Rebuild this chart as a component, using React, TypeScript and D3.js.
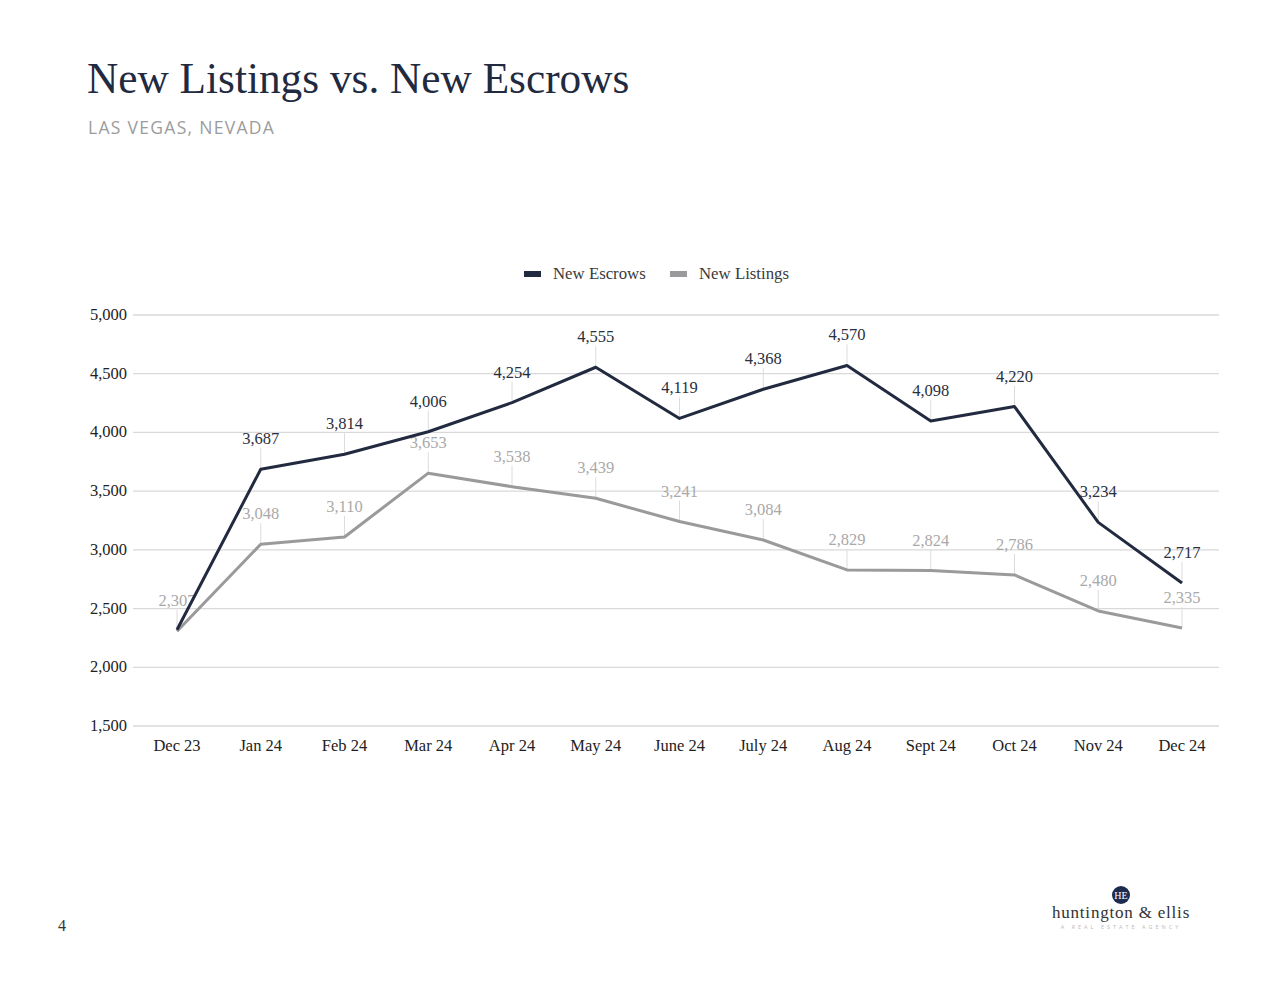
import React from "react";
import * as d3 from "d3";

const categories = ["Dec 23", "Jan 24", "Feb 24", "Mar 24", "Apr 24", "May 24", "June 24", "July 24", "Aug 24", "Sept 24", "Oct 24", "Nov 24", "Dec 24"];
const escrows = [2320, 3687, 3814, 4006, 4254, 4555, 4119, 4368, 4570, 4098, 4220, 3234, 2717];
const escrowLabelShown = [false, true, true, true, true, true, true, true, true, true, true, true, true];
const listings = [2307, 3048, 3110, 3653, 3538, 3439, 3241, 3084, 2829, 2824, 2786, 2480, 2335];
const yTicks = [1500, 2000, 2500, 3000, 3500, 4000, 4500, 5000];

const W = 1280;
const H = 989;
const SERIF = "'Liberation Serif', 'DejaVu Serif', serif";
const SANS = "'Open Sans', Lato, sans-serif";
const NAVY = "#222a3f";
const GREY = "#9a9a9d";

export default function App() {
  const x = d3.scalePoint<string>().domain(categories).range([177, 1182]);
  const cx = (c: string) => x(c) as number;
  const y = d3.scaleLinear().domain([1500, 5000]).range([726, 315]);
  const fmt = d3.format(",");

  const line = d3.line<number>().x((_, i) => cx(categories[i])).y((d) => y(d));

  const renderLabels = (vals: number[], color: string, shown?: boolean[]) =>
    vals.map((v, i) => {
      if (shown && !shown[i]) return null;
      const px = cx(categories[i]);
      const py = y(v);
      const ly = py - 25;
      return (
        <g key={i}>
          <line x1={px} x2={px} y1={ly + 4} y2={py} stroke="#dcdcdc" strokeWidth={1} />
          <text x={px} y={ly} textAnchor="middle" fontFamily={SERIF} fontSize={16.5} fill={color}>
            {fmt(v)}
          </text>
        </g>
      );
    });

  return (
    <svg width={W} height={H} style={{ position: "absolute", left: 0, top: 0, background: "#fff" }}>
      <rect width={W} height={H} fill="#fff" />
      <text x={87} y={93} fontFamily={SERIF} fontSize={43.3} fill={NAVY}>
        New Listings vs. New Escrows
      </text>
      <text x={88} y={134} fontFamily={SANS} fontSize={17.5} fill="#9c9c9c" letterSpacing={1.3}>
        LAS VEGAS, NEVADA
      </text>

      {/* legend */}
      <rect x={524} y={271} width={17} height={6} fill={NAVY} />
      <text x={553} y={279} fontFamily={SERIF} fontSize={16.8} fill="#3a3a3a">New Escrows</text>
      <rect x={670} y={271} width={17} height={6} fill={GREY} />
      <text x={699} y={279} fontFamily={SERIF} fontSize={16.8} fill="#3a3a3a">New Listings</text>

      {/* grid */}
      {yTicks.map((t) => (
        <g key={t}>
          <line x1={133} x2={1219} y1={y(t)} y2={y(t)} stroke="#d9d9d9" strokeWidth={1.3} />
          <text x={127} y={y(t) + 5} textAnchor="end" fontFamily={SERIF} fontSize={16.5} fill="#222">
            {fmt(t)}
          </text>
        </g>
      ))}

      {categories.map((c) => (
        <text key={c} x={cx(c)} y={751} textAnchor="middle" fontFamily={SERIF} fontSize={16.5} fill="#222">
          {c}
        </text>
      ))}

      {renderLabels(escrows, "#2a2f3d", escrowLabelShown)}
      {renderLabels(listings, "#a9a9a9")}

      <path d={line(listings) || ""} fill="none" stroke={GREY} strokeWidth={3} strokeLinejoin="round" />
      <path d={line(escrows) || ""} fill="none" stroke={NAVY} strokeWidth={3} strokeLinejoin="round" />

      {/* footer */}
      <text x={58} y={931} fontFamily={SERIF} fontSize={16} fill="#333">4</text>
      <circle cx={1121} cy={895} r={9} fill="#1d2b4f" />
      <text x={1121} y={899} textAnchor="middle" fontFamily={SERIF} fontSize={10} fill="#fff">HE</text>
      <text x={1121} y={918} textAnchor="middle" fontFamily={SERIF} fontSize={17} fill="#333" letterSpacing={0.8}>
        huntington &amp; ellis
      </text>
      <text x={1121} y={929} textAnchor="middle" fontFamily={SANS} fontSize={5.5} fill="#bbb" letterSpacing={3}>
        A REAL ESTATE AGENCY
      </text>
    </svg>
  );
}
